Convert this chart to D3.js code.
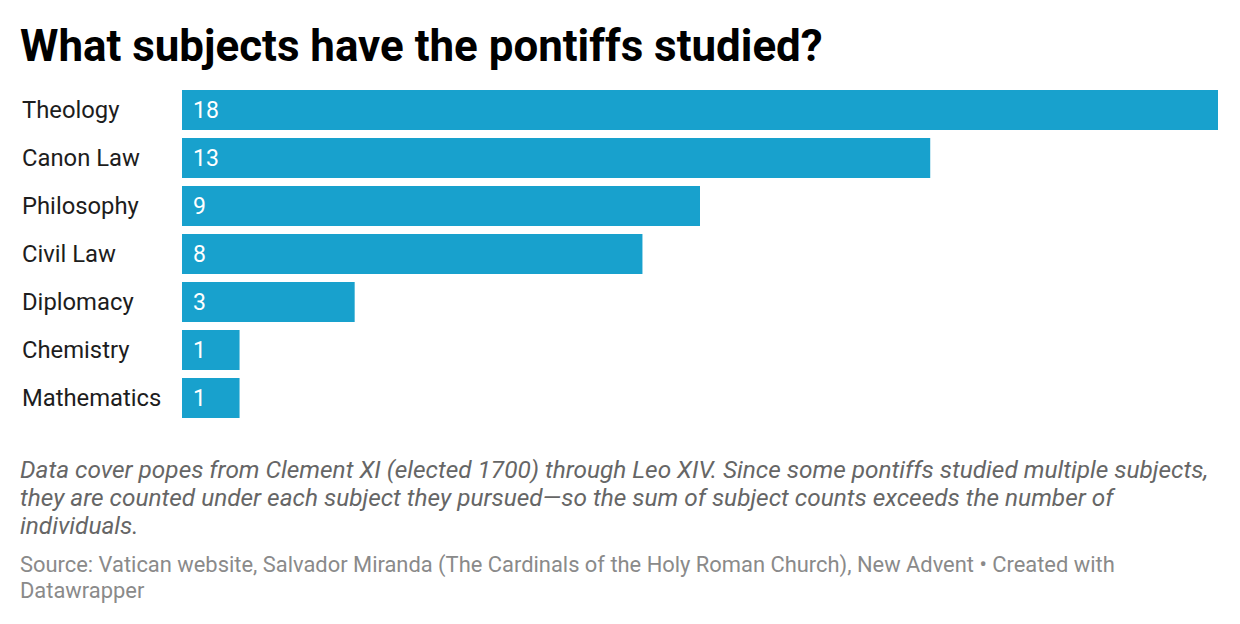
<!DOCTYPE html>
<html>
<head>
<meta charset="utf-8">
<script src="https://cdn.jsdelivr.net/npm/d3@7"></script>
<style>
  body { margin: 0; background: #fff; }
  svg { display: block; font-family: Roboto, sans-serif; }
</style>
</head>
<body>
<script>
var w = 1240;
var h = 624;

// data
var subjects = ["Theology", "Canon Law", "Philosophy", "Civil Law", "Diplomacy", "Chemistry", "Mathematics"];
var counts = [18, 13, 9, 8, 3, 1, 1];

var title = "What subjects have the pontiffs studied?";
var notes = [
  "Data cover popes from Clement XI (elected 1700) through Leo XIV. Since some pontiffs studied multiple subjects,",
  "they are counted under each subject they pursued\u2014so the sum of subject counts exceeds the number of",
  "individuals."
];
var source = [
  "Source: Vatican website, Salvador Miranda (The Cardinals of the Holy Roman Church), New Advent \u2022 Created with",
  "Datawrapper"
];

var svg = d3.select("body")
            .append("svg")
              .attr("width", w)
              .attr("height", h);

// title
svg.append("text")
  .attr("x", 20)
  .attr("y", 61)
  .style("font-size", "43.9px")
  .style("font-weight", "bold")
  .style("fill", "#000")
  .text(title);

var x = d3.scaleLinear()
  .domain([0, d3.max(counts)])
  .range([182, 1218]);

var y = d3.scaleBand()
  .domain(subjects)
  .range([90, 418])
  .paddingInner(8 / 48);

var rows = svg.selectAll("g.row")
  .data(subjects)
  .enter()
  .append("g")
  .attr("class", "row");

rows.append("rect")
  .attr("x", x(0))
  .attr("y", function(d) { return y(d); })
  .attr("width", function(d, i) { return x(counts[i]) - x(0); })
  .attr("height", y.bandwidth())
  .style("fill", "#18a1cd");

// category labels
rows.append("text")
  .attr("x", 22)
  .attr("y", function(d) { return y(d) + y.bandwidth() / 2; })
  .attr("dy", "0.35em")
  .style("font-size", "23.8px")
  .style("fill", "#1d1d1d")
  .text(function(d) { return d; });

// value labels inside bars
rows.append("text")
  .attr("x", x(0) + 11)
  .attr("y", function(d) { return y(d) + y.bandwidth() / 2; })
  .attr("dy", "0.35em")
  .style("font-size", "23px")
  .style("fill", "#fff")
  .text(function(d, i) { return counts[i]; });

// notes
svg.selectAll("text.note")
  .data(notes)
  .enter()
  .append("text")
  .attr("class", "note")
  .attr("x", 20)
  .attr("y", function(d, i) { return 478 + i * 28; })
  .style("font-size", "24.4px")
  .style("font-style", "italic")
  .style("fill", "#666")
  .text(function(d) { return d; });

// source
svg.selectAll("text.source")
  .data(source)
  .enter()
  .append("text")
  .attr("class", "source")
  .attr("x", 20)
  .attr("y", function(d, i) { return 572 + i * 26; })
  .style("font-size", "21.9px")
  .style("fill", "#8a8a8a")
  .text(function(d) { return d; });
</script>
</body>
</html>
